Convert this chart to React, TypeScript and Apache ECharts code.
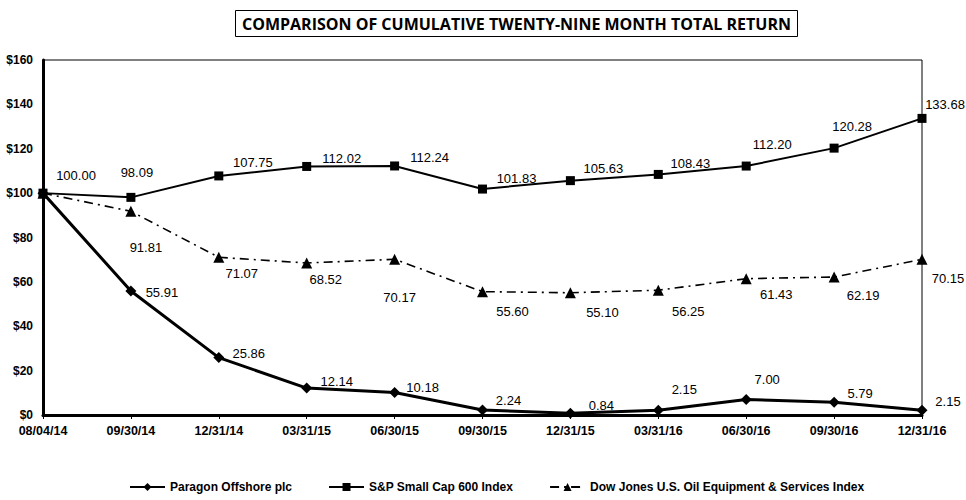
import React, { useEffect, useRef } from "react";
import * as echarts from "echarts";

const categories = [
  "08/04/14", "09/30/14", "12/31/14", "03/31/15", "06/30/15", "09/30/15",
  "12/31/15", "03/31/16", "06/30/16", "09/30/16", "12/31/16",
];
const paragon = [100.0, 55.91, 25.86, 12.14, 10.18, 2.24, 0.84, 2.15, 7.0, 5.79, 2.15];
const spSmallCap = [100.0, 98.09, 107.75, 112.02, 112.24, 101.83, 105.63, 108.43, 112.2, 120.28, 133.68];
const dowJones = [100.0, 91.81, 71.07, 68.52, 70.17, 55.6, 55.1, 56.25, 61.43, 62.19, 70.15];
const seriesNames = [
  "Paragon Offshore plc",
  "S&P Small Cap 600 Index",
  "Dow Jones U.S. Oil Equipment & Services Index",
];
const titleText = "COMPARISON OF CUMULATIVE TWENTY-NINE MONTH TOTAL RETURN";

// label placement (style): offset of the label centre from its point, null = hidden
const paragonLabelOffsets: (number[] | null)[] = [
  null, [31, 2], [30, -4], [30, -7], [28, -5], [26, -10], [31, -8], [26, -21], [21, -20], [26, -9], [26, -9],
];
const spLabelOffsets: (number[] | null)[] = [
  [33, -18], [6, -25], [34, -13], [35, -8], [35, -8], [34, -11], [33, -12], [32, -11], [26, -22], [18, -22], [23, -14],
];
const djLabelOffsets: (number[] | null)[] = [
  null, [15, 36], [23, 16], [19, 17], [5, 38], [30, 20], [32, 20], [30, 21], [30, 16], [29, 18], [26, 19],
];

const FONT = "'Liberation Sans', Arial, sans-serif";

function withLabels(values: number[], offsets: (number[] | null)[]) {
  return values.map((v, i) => {
    const off = offsets[i];
    return {
      value: v,
      label: off ? { show: true, offset: off } : { show: false },
    };
  });
}

export default function App() {
  const ref = useRef<HTMLDivElement>(null);
  useEffect(() => {
    if (!ref.current) return;
    const chart = echarts.init(ref.current, null, { renderer: "svg" });
    const labelBase = {
      show: true,
      position: "inside",
      color: "#000",
      fontFamily: FONT,
      fontSize: 13,
      align: "center",
      verticalAlign: "middle",
      formatter: (p: any) => Number(p.value).toFixed(2),
    };
    chart.setOption({
      animation: false,
      backgroundColor: "#fff",
      title: {
        text: titleText,
        left: 235,
        top: 10,
        padding: [6, 7, 5, 7],
        borderColor: "#000",
        borderWidth: 1,
        textStyle: {
          fontFamily: "'Open Sans', sans-serif",
          fontWeight: "bold",
          fontSize: 16,
          color: "#000",
        },
      },
      grid: {
        left: 43,
        right: 44,
        top: 60,
        bottom: 85,
        show: true,
        borderColor: "#000",
        borderWidth: 1,
        backgroundColor: "transparent",
      },
      legend: {
        bottom: 2,
        left: 124,
        itemGap: 36,
        itemWidth: 35,
        itemHeight: 10,
        textStyle: { fontFamily: FONT, fontWeight: "bold", fontSize: 12, color: "#000" },
        data: seriesNames,
      },
      xAxis: {
        type: "category",
        data: categories,
        boundaryGap: false,
        axisLine: { lineStyle: { color: "#000", width: 3 } },
        axisTick: { show: true, length: 4, lineStyle: { color: "#000", width: 1 } },
        axisLabel: {
          color: "#000",
          fontFamily: FONT,
          fontWeight: "bold",
          fontSize: 12.5,
          margin: 9,
        },
        splitLine: { show: false },
      },
      yAxis: {
        type: "value",
        min: 0,
        max: 160,
        interval: 20,
        axisLine: { show: true, lineStyle: { color: "#000", width: 3 } },
        axisTick: { show: false },
        splitLine: { show: false },
        axisLabel: {
          color: "#000",
          fontFamily: FONT,
          fontWeight: "bold",
          fontSize: 12,
          margin: 10,
          formatter: (v: number) => "$" + v,
        },
      },
      series: [
        {
          name: seriesNames[2],
          type: "line",
          data: withLabels(dowJones, djLabelOffsets),
          symbol: "triangle",
          symbolSize: 11,
          color: "#000",
          lineStyle: { color: "#000", width: 1.6, type: [9, 5, 2, 5] },
          itemStyle: { color: "#000" },
          label: labelBase,
          z: 2,
        },
        {
          name: seriesNames[1],
          type: "line",
          data: withLabels(spSmallCap, spLabelOffsets),
          symbol: "rect",
          symbolSize: 9,
          color: "#000",
          lineStyle: { color: "#000", width: 2 },
          itemStyle: { color: "#000" },
          label: labelBase,
          z: 3,
        },
        {
          name: seriesNames[0],
          type: "line",
          data: withLabels(paragon, paragonLabelOffsets),
          symbol: "diamond",
          symbolSize: 11,
          color: "#000",
          lineStyle: { color: "#000", width: 3 },
          itemStyle: { color: "#000" },
          label: labelBase,
          z: 4,
        },
      ],
    });
    return () => chart.dispose();
  }, []);
  return (
    <div
      ref={ref}
      style={{ position: "fixed", left: 0, top: 0, width: 966, height: 500, background: "#fff" }}
    />
  );
}
